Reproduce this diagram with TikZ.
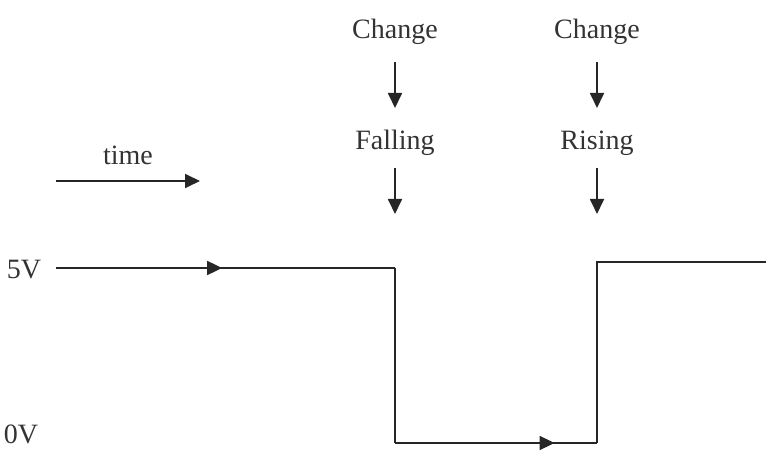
\documentclass[tikz,border=0pt]{standalone}
\usepackage{fontspec}
\setmainfont{Liberation Serif}
\usetikzlibrary{arrows.meta,decorations.markings}
\begin{document}
\begin{tikzpicture}[x=1pt,y=1pt,
  lbl/.style={font=\fontsize{28}{31}\selectfont, text=black!80, inner sep=0pt, anchor=base},
  arr/.style={line width=1.8pt, black!85, -{Triangle[length=15pt,width=14pt]}},
  sig/.style={line width=1.8pt, black!85},
  midarrow/.style={postaction={decorate}, decoration={markings,
     mark=at position #1 with {\arrow{Triangle[length=15pt,width=14pt]}}}}]
\useasboundingbox (0,0) rectangle (766,450);
% labels
\node[lbl] (time) at (128,285) {time};
\node[lbl] (v5) at (24,171) {5V};
\node[lbl] (v0) at (21,7) {0V};
\node[lbl] (c1) at (395,411) {Change};
\node[lbl] (c2) at (597,411) {Change};
\node[lbl] (fall) at (395,300) {Falling};
\node[lbl] (rise) at (597,300) {Rising};
% time arrow
\coordinate (t0) at (56,269);
\coordinate (t1) at (200,269);
\draw[arr] (t0) -- (t1);
% vertical arrows
\coordinate (a1s) at (395,388); \coordinate (a1e) at (395,342);
\coordinate (a2s) at (597,388); \coordinate (a2e) at (597,342);
\coordinate (b1s) at (395,282); \coordinate (b1e) at (395,236);
\coordinate (b2s) at (597,282); \coordinate (b2e) at (597,236);
\draw[arr] (a1s) -- (a1e);
\draw[arr] (a2s) -- (a2e);
\draw[arr] (b1s) -- (b1e);
\draw[arr] (b2s) -- (b2e);
% signal
\coordinate (s0) at (56,182);
\coordinate (s1) at (395,182);
\coordinate (s2) at (395,7);
\coordinate (s3) at (597,7);
\coordinate (s4) at (597,188);
\coordinate (s5) at (766,188);
\draw[sig, midarrow=0.49] (s0) -- (s1);
\draw[sig, midarrow=0.79] (s2) -- (s3);
\draw[sig, line join=miter] (s1) -- (s2);
\draw[sig] (s3) -- (s4) -- (s5);
\end{tikzpicture}
\end{document}
